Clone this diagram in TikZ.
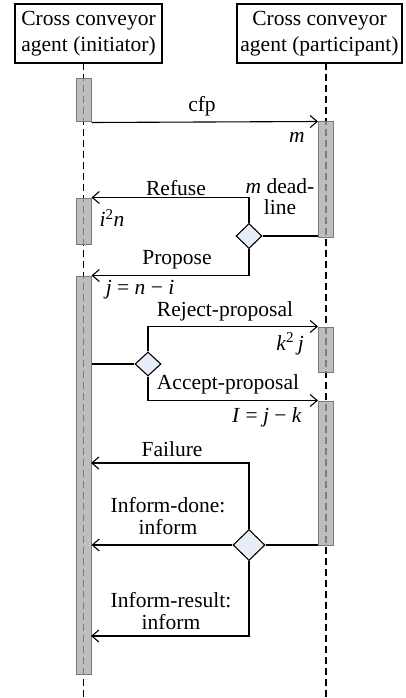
\documentclass[tikz,border=0pt]{standalone}
\usepackage{fontspec}
\setmainfont{Liberation Serif}
\usetikzlibrary{arrows.meta,shapes.geometric}
\definecolor{barfill}{HTML}{A8A8A8}
\definecolor{barline}{HTML}{7A7A7A}
\definecolor{diafill}{HTML}{E6EDF7}
\newcommand{\vi}[1]{\textit{#1}}
\begin{document}
\begin{tikzpicture}[x=1pt,y=-1pt,
  agentbox/.style={draw,line width=1.1pt,minimum height=59pt,inner sep=0pt,align=center,font=\fontsize{21.5}{26}\selectfont},
  life/.style={dash pattern=on 7pt off 4pt,line width=1.1pt},
  actbar/.style={draw=barline,fill=barfill,fill opacity=0.75,draw opacity=1,line width=1pt,minimum width=15pt,inner sep=0pt},
  choice/.style={diamond,aspect=1,draw,fill=diafill,line width=1.1pt,inner sep=0pt},
  msg/.style={line width=1.1pt,-{Straight Barb[length=7pt,width=12pt,line width=1.1pt]}},
  link/.style={line width=1.1pt},
  lbl/.style={font=\fontsize{21.5}{22}\selectfont,align=center,inner sep=0pt}
]
\useasboundingbox (0,0) rectangle (405,698);

% agents
\node[agentbox,minimum width=147pt] (ini) at (88.5,33.5) {Cross conveyor\\agent (initiator)};
\node[agentbox,minimum width=165pt] (par) at (319.5,33.5) {Cross conveyor\\agent (participant)};

% lifelines
\coordinate (ltop) at (83.5,63);
\coordinate (lbot) at (83.5,698);
\coordinate (rtop) at (326,63);
\coordinate (rbot) at (326,698);
\draw[life] (ltop) -- (lbot);
\draw[life] (rtop) -- (rbot);

% activation bars
\node[actbar,minimum height=43pt]  (b1) at (83.5,100.5) {};
\node[actbar,minimum height=46pt]  (b2) at (83.5,221) {};
\node[actbar,minimum height=398pt] (b3) at (83.5,475) {};
\node[actbar,minimum height=115pt] (r1) at (326,179.5) {};
\node[actbar,minimum height=45pt]  (r2) at (326,349.5) {};
\node[actbar,minimum height=144pt] (r3) at (326,473) {};

% decisions
\node[choice,minimum width=26pt,minimum height=25pt] (d1) at (249,236) {};
\node[choice,minimum width=26pt,minimum height=24pt] (d2) at (148,364) {};
\node[choice,minimum width=32pt,minimum height=31pt] (d3) at (249,545) {};

% messages
\draw[msg] (b1.south east) -- (r1.north west);
\draw[msg] (d1.north) |- (b2.north east);
\draw[link] (d1.east) -- (d1.east -| r1.west);
\draw[msg] (d1.south) |- (b3.north east);
\draw[link] (d2.west -| b3.east) -- (d2.west);
\draw[msg] (d2.north) |- (r2.north west);
\draw[msg] (d2.south) |- (r3.north west);
\draw[link] (d3.east) -- (d3.east -| r3.west);
\coordinate (fail) at (91,463);
\coordinate (res) at (91,636);
\draw[msg] (d3.north) |- (fail);
\draw[msg] (d3.west) -- (d3.west -| b3.east);
\draw[msg] (d3.south) |- (res);

% labels
\node[lbl] (lcfp) at (202,106) {cfp};
\node[lbl] (lm) at (297,137) {\vi{m}};
\node[lbl] (lref) at (176,188) {Refuse};
\node[lbl,font=\fontsize{21.5}{21}\selectfont] (ldl) at (280,197) {\vi{m} dead-\\line};
\node[lbl] (lin) at (112,218) {\vi{i}\textsuperscript{2}\vi{n}};
\node[lbl] (lpro) at (177,260) {Propose};
\node[lbl] (ljn) at (140,290) {\vi{j} = \vi{n} − \vi{i}};
\node[lbl] (lrej) at (225,311) {Reject-proposal};
\node[lbl] (lkj) at (290,344) {\vi{k}\textsuperscript{2}\,\vi{j}};
\node[lbl] (lacc) at (228,384) {Accept-proposal};
\node[lbl] (lij) at (267,417) {\vi{I} = \vi{j} − \vi{k}};
\node[lbl] (lfail) at (172,449) {Failure};
\node[lbl] (ldone) at (168,516) {Inform-done:\\inform};
\node[lbl] (lres) at (171,611) {Inform-result:\\inform};
\end{tikzpicture}
\end{document}
